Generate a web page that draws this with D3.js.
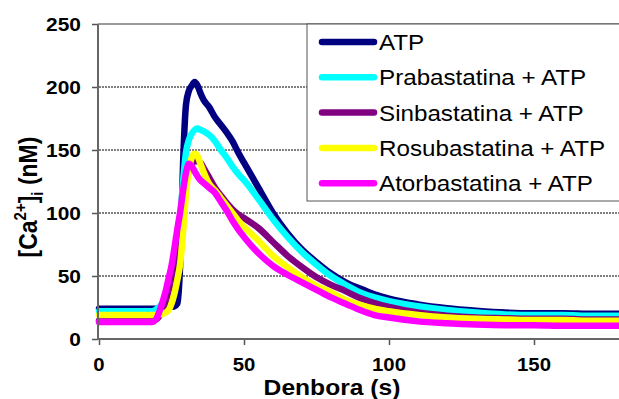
<!DOCTYPE html>
<html><head><meta charset="utf-8">
<script src="https://cdn.jsdelivr.net/npm/d3@7"></script>
<style>
html,body{margin:0;padding:0;background:#fff;}
svg{display:block;font-family:Arial,"Liberation Sans",sans-serif;}
</style></head>
<body>
<svg id="c" width="619" height="399"></svg>
<script>
// ---- data ----
const time = [0,5,10,15,18,19,20,21,22,23,24,25,26,27,28,29,30,31,32,33,34,35,36,38,40,42,44,46,48,50,55,60,65,70,75,80,85,90,95,100,110,120,130,140,150,160,170,180];
const atp   = [24,24,24,24,24,24,24,24,24.5,25,25,25.5,26,28,60,140,186,197,201,204,201,195,190,184,176,170,164,157,148,140,120,100,84,71,61,52,45,40,35.5,32,27.5,24.5,22.5,21,20.5,20.5,20,20];
const prabastatina = [22,22,22,22,22,22.5,24,26,29,33,39,47,58,74,95,125,148,158,163,166,167,166,165,162,157,150,144,137,131,126,111,95,81,69,59,50,43,37,33,30,26,23,21,19.5,19,19,18.5,18.5];
const sinbastatina = [14.5,14.5,14.5,14.5,14.5,15,16,19,24,30,38,48,60,74,90,108,124,134,139,141,141,140,136,128,120,114,108,103,99,96,88,77,66,57,49,43,38,32.5,28.5,25.5,21,18.5,17,16.5,16,16,15.5,15.5];
const rosubastatina = [19,19,19,19,19,19,19,19.5,20,21,23,28,36,47,60,85,115,135,144,147,145,139,133,123,118,112,106,100,94,89,78,66,57,49,42,37,31,27,24,22,19,17,16,15.5,15,15,14.5,14.5];
const atorbastatina = [13.5,13.5,13.5,13.5,13.5,14,17,23,30,38,48,58,72,87,101,118,132,139,137,133,129,126,124,120,116,109,102,94,87,81,68,58,51,45,39,33,28,23,19,17,14,12.5,11.5,11,11,10.5,10.5,10.5];
const seriesNames = ["ATP","Prabastatina + ATP","Sinbastatina + ATP","Rosubastatina + ATP","Atorbastatina + ATP"];
const seriesValues = [atp,prabastatina,sinbastatina,rosubastatina,atorbastatina];
const colors = ["#000080","#00FFFF","#800080","#FFFF00","#FF00FF"];
const yTicks = [0,50,100,150,200,250];
const xTicks = [0,50,100,150];
const gridVals = [50,100,150,200];

// ---- layout ----
const svg = d3.select("#c");
const X0=99, X1=621, Y0=339, Y1=24;
const x = d3.scaleLinear().domain([0,180]).range([X0,X1]);
const y = d3.scaleLinear().domain([0,250]).range([Y0,Y1]);
const K = 1.1; // horizontal stretch of text

// gridlines
svg.append("g").selectAll("line").data(gridVals).join("line")
  .attr("x1",X0).attr("x2",X1).attr("y1",d=>y(d)).attr("y2",d=>y(d))
  .attr("stroke","#000").attr("stroke-width",1).attr("stroke-dasharray","2,1");

// top border
svg.append("line").attr("x1",X0-1).attr("x2",X1).attr("y1",y(250)).attr("y2",y(250))
  .attr("stroke","#777").attr("stroke-width",1.5);

// lines
const line = d3.line().x((d,i)=>x(time[i])).y(d=>y(d)).curve(d3.curveMonotoneX);
svg.append("g").selectAll("path").data(seriesValues).join("path")
  .attr("d",d=>line(d)).attr("fill","none")
  .attr("stroke",(d,i)=>colors[i]).attr("stroke-width",6.5)
  .attr("stroke-linejoin","round").attr("stroke-linecap","round");

// axes
const ay = svg.append("g").attr("transform",`translate(${X0-1},0)`)
  .call(d3.axisLeft(y).tickValues(yTicks).tickSize(6).tickFormat(""));
const ax = svg.append("g").attr("transform",`translate(0,${Y0})`)
  .call(d3.axisBottom(x).tickValues(xTicks).tickSize(6).tickFormat(""));
ax.select(".domain").remove();
ay.select(".domain").remove();
svg.append("line").attr("x1",X0-1).attr("x2",X1).attr("y1",Y0).attr("y2",Y0).attr("stroke","#666").attr("stroke-width",2);
svg.append("line").attr("x1",X0-1).attr("x2",X0-1).attr("y1",Y1).attr("y2",Y0+1).attr("stroke","#666").attr("stroke-width",2);
svg.selectAll(".tick line").attr("stroke","#555").attr("stroke-width",1.5);

// tick labels
svg.append("g").selectAll("text").data(yTicks).join("text")
  .attr("transform",d=>`translate(81,${y(d)+7}) scale(${K},1)`)
  .attr("text-anchor","end").attr("font-size",19).attr("font-weight","bold").text(d=>d);
svg.append("g").selectAll("text").data(xTicks).join("text")
  .attr("transform",d=>`translate(${x(d)},371) scale(${K},1)`)
  .attr("text-anchor","middle").attr("font-size",18.5).attr("font-weight","bold").text(d=>d);

// axis titles
svg.append("text").attr("transform",`translate(332,395) scale(${K+0.02},1)`)
  .attr("text-anchor","middle").attr("font-size",22).attr("font-weight","bold").text("Denbora (s)");
const yt = svg.append("text").attr("transform",`translate(37,197) scale(${K},1) rotate(-90)`)
  .attr("text-anchor","middle").attr("font-size",23).attr("font-weight","bold");
yt.append("tspan").text("[Ca");
yt.append("tspan").attr("font-size",15).attr("dy",-10).text("2+");
yt.append("tspan").attr("dy",10).text("]");
yt.append("tspan").attr("font-size",15).attr("dy",5).text("i");
yt.append("tspan").attr("dy",-5).text(" (nM)");

// legend
const lg = svg.append("g");
lg.append("rect").attr("x",307).attr("y",24).attr("width",330).attr("height",177)
  .attr("fill","#fff").attr("stroke","#555").attr("stroke-width",1);
const rows = lg.selectAll("g").data(seriesNames).join("g")
  .attr("transform",(d,i)=>`translate(0,${42+35.3*i})`);
rows.append("line").attr("x1",322).attr("x2",374).attr("y1",0).attr("y2",0)
  .attr("stroke",(d,i)=>colors[i]).attr("stroke-width",6.5).attr("stroke-linecap","round");
rows.append("text").attr("transform",`translate(379,8) scale(${K},1)`)
  .attr("font-size",22).text(d=>d);
</script>
</body></html>
